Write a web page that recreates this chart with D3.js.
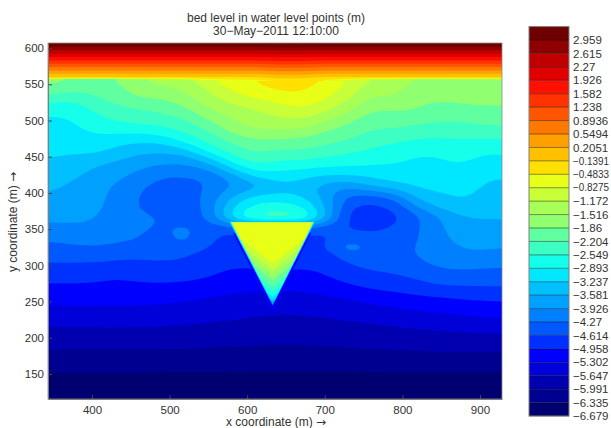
<!DOCTYPE html>
<html><head><meta charset="utf-8">
<script src="https://cdn.jsdelivr.net/npm/d3@7/dist/d3.min.js"></script>
<style>html,body{margin:0;padding:0;background:#fff;overflow:hidden}svg{display:block}</style>
</head><body>
<script>
const levels=[-6.679,-6.335,-5.991,-5.647,-5.302,-4.958,-4.614,-4.27,-3.926,-3.581,-3.237,-2.893,-2.549,-2.204,-1.86,-1.516,-1.172,-0.8275,-0.4833,-0.1391,0.2051,0.5494,0.8936,1.238,1.582,1.926,2.27,2.615,2.959];
const levelLabels=["−6.679","−6.335","−5.991","−5.647","−5.302","−4.958","−4.614","−4.27","−3.926","−3.581","−3.237","−2.893","−2.549","−2.204","−1.86","−1.516","−1.172","−0.8275","−0.4833","−0.1391","0.2051","0.5494","0.8936","1.238","1.582","1.926","2.27","2.615","2.959"];
const bandColors=["#000070","#000090","#0000b0","#0000d8","#0000ff","#0030ff","#0058ff","#0080ff","#00a0ff","#00c0ff","#00e8ff","#14ffeb","#3cffc3","#60ffa0","#90ff70","#a8ff57","#c8ff37","#e8ff17","#ffe000","#ffc000","#ffa000","#ff7800","#ff5500","#ff3300","#ff1000","#e00000","#c00000","#900000","#6f0000"];
const xTicks=[400,500,600,700,800,900];
const yTicks=[150,200,250,300,350,400,450,500,550,600];
const xGrid=[340,370,400,430,460,490,520,550,580,610,640,670,700,730,760,790,820,850,880,910,940];
const yGrid=[115,135,155,175,195,215,235,255,270,285,300,315,325,335,350,362,370,380,395,410,425,440,455,470,485,500,515,530,545,556];
const yStrip=[556,559,607];
// bed level per grid row (bottom to top), read as position on the contour-class scale
const bedClass=[
[-.1,-.1,-.1,-.1,-.1,-.1,-.1,-.1,-.1,-.1,-.1,-.1,-.1,-.1,-.1,-.1,-.1,-.1,-.1,-.1,-.1],
[.45,.45,.45,.45,.45,.45,.46,.47,.48,.5,.5,.5,.48,.47,.46,.45,.45,.45,.45,.45,.45],
[1.12,1.12,1.12,1.12,1.12,1.08,1.08,1.08,1.08,1.03,1.03,1.03,1.03,1.03,1.08,1.08,1.08,1.08,1.08,1.08,1.08],
[1.72,1.72,1.72,1.72,1.72,1.72,1.72,1.68,1.65,1.61,1.61,1.61,1.65,1.72,1.76,1.77,1.77,1.81,1.81,1.81,1.81],
[2.35,2.35,2.35,2.35,2.35,2.33,2.32,2.26,2.21,2.16,2.15,2.15,2.18,2.26,2.31,2.39,2.42,2.49,2.51,2.53,2.53],
[3.01,3.01,3.01,3.01,3.01,2.96,2.93,2.82,2.75,2.64,2.6,2.6,2.65,2.74,2.83,2.97,3.06,3.19,3.26,3.37,3.37],
[3.67,3.7,3.7,3.74,3.7,3.62,3.55,3.4,3.3,3.14,3.07,3.07,3.18,3.33,3.51,3.68,3.83,4.04,4.17,4.4,4.4],
[4.33,4.36,4.36,4.31,4.34,4.3,4.21,4.01,3.85,3.7,3.65,3.7,3.87,4.08,4.4,4.63,4.86,5,5.15,5.17,5.17],
[4.82,4.82,4.82,4.67,4.79,4.81,4.75,4.58,4.27,4.17,4.15,4.19,4.4,4.8,5.17,5.3,5.56,5.85,5.93,6,6],
[5.35,5.33,5.33,5.05,5.25,5.33,5.25,5.09,4.69,4.77,5,4.71,4.94,5.46,5.77,5.85,6.18,6.74,6.62,6.57,6.55],
[5.9,5.84,5.84,5.69,5.7,5.84,5.7,5.4,5.06,5.15,5.1,5.1,5.2,5.9,6.3,6.35,6.82,7.16,7.26,7.15,7.09],
[6.37,6.42,6.5,6.37,6.2,6.33,6.2,5.65,5.3,5.4,5.5,5.6,5.43,6.7,6.45,6.5,7.16,7.37,7.87,7.76,7.68],
[6.69,6.83,6.99,6.85,6.6,6.55,6.6,5.95,5.5,5.6,5.7,5.8,5.5,8.3,6.5,6.6,7.05,7.5,8.17,8.1,8.03],
[7,7.2,7.32,7.1,7,6.45,7.6,6,5.7,5.8,5.9,5.9,5.7,6.9,6.2,6.6,6.95,7.7,8.4,8.35,8.3],
[7.7,7.79,7.82,7.3,7.3,6.6,7.6,6.2,6,6,6,6,6,5.9,5.8,6.05,6.9,7.85,8.8,8.7,8.7],
[8.1,8.1,8.1,7.42,7.4,6.9,6.55,6.6,9.6,11.5,11.5,11.5,8.8,5.5,5.55,5.7,6.9,8.05,8.95,8.95,9.05],
[8.3,8.3,8.2,7.47,7.25,6.7,6.45,6.85,10.3,12.3,12.5,12.3,9.2,5.4,5.5,5.75,7.05,8.4,9.2,9.1,9.15],
[8.55,8.55,8.35,7.6,6.95,6.55,6.45,7.05,10.2,11.5,11.9,11.4,9.3,5.8,5.6,6,7.95,9.2,9.85,9.35,9.3],
[8.92,8.68,8.5,7.7,6.95,6.4,6.35,7.3,8.9,10.5,10.1,10.05,8.6,6.6,6.5,6.9,9.8,9.85,10.2,9.5,9.7],
[9.25,8.94,8.4,7.95,7.13,6.65,6.65,6.9,7.85,8.05,9.7,9.5,8.5,8.1,9.4,9.95,10.2,10.2,10.5,9.8,9.8],
[9.57,9.29,8.8,8.33,7.75,7,7,7.2,8.4,10.8,10.65,10.45,10.05,10.15,10.2,10.5,10.47,10.5,10.75,10,10.2],
[9.9,9.68,9.07,8.76,8.36,8,7.95,8.5,11.1,12.2,11.6,11.55,11.37,11.25,11.15,11,10.75,10.8,11.1,10.3,10.7],
[10.15,10.05,10.25,9.68,9,8.95,9,11.2,12.15,13.15,12.7,12.83,12.4,12,11.75,11.5,11,11.1,11.5,10.95,11.1],
[10.38,10.3,10.6,10.27,9.97,10,11.3,12.1,13.15,13.75,13.6,13.55,13.2,12.9,12.3,12,11.75,11.75,11.85,11.7,11.8],
[10.6,10.55,11.2,11.2,11.3,11.45,12.2,12.9,14.3,14.9,14.85,14.8,13.9,13.5,12.85,12.9,12.5,12.35,12.45,12.65,12.6],
[10.84,10.82,11.6,12.1,12.35,12.55,12.8,14,15,15.6,15.75,16,15.15,14.15,13.37,13.45,13.35,13,13.1,13.35,13.3],
[11.3,11.2,12,12.75,12.85,13.25,13.7,14.95,15.55,15.85,16.5,17,16.25,15.3,13.9,14.1,14,13.65,13.75,13.85,13.8],
[12.7,11.95,12.85,13.27,14.05,13.9,14.6,15.65,16.4,17.1,17.3,17.85,17.15,16.1,14.6,15.1,14.2,14.05,14.3,14.25,14.4],
[13.93,13.6,13.3,13.7,14.6,15,15.1,16.2,17.3,17.8,18.3,18.3,17.5,16.95,15.35,15.5,14.3,14.4,14.5,14.5,14.5],
[14.4,14,13.6,13.9,14.95,15.3,15.6,16.95,17.8,17.9,18.7,18.6,18,16.95,15.9,15.8,14.85,14.7,15.1,14.9,15.2]
];
// steep strip along the top of the plot: rows at yStrip[1], yStrip[2]
const stripClass=[
[18.8,18.8,18.8,18.8,18.8,18.8,18.8,18.8,18.8,18.8,19.1,19.1,18.8,18.8,18.8,18.8,18.8,18.8,18.8,18.8,18.8],
[29.2,29.2,29.2,29.2,29.2,29.2,29.2,29.2,29.2,29.2,29.2,29.2,29.2,29.2,29.2,29.2,29.2,29.2,29.2,29.2,29.2]
];
// pit: nested outlines, outer to inner
const pitClass=[4,8,9,10,11,12,13,14,15,16,17];
const pitInset=[-2.5,0,.4,.9,1.3,1.7,2,2.4,2.7,3,3.6];
const pitTop=[345,360.5,360.3,360.1,360,359.8,359.6,359.4,359.2,359,358.8];
const pitApex=[238,245,249.7,252,256.6,263.5,270.4,279.6,286.6,293.5,302.8];
const pitCorners={left:577,right:687.4,top:360,apex:632.9,apexY:245};

const W=611,H=428;
const x=d3.scaleLinear().domain([343.3,928.4]).range([48,502]);
const y=d3.scaleLinear().domain([115.5,607]).range([399,43]);
const classToLevel=d3.scaleLinear().domain([0,28]).range([-6.679,2.959]);
const svg=d3.select("body").append("svg").attr("width",W).attr("height",H)
  .style("font-family","'Liberation Sans',Arial,sans-serif");
const defs=svg.append("defs");
defs.append("clipPath").attr("id","plotClip").append("rect")
  .attr("x",48).attr("y",43).attr("width",454).attr("height",356);
defs.append("filter").attr("id","soft").attr("x","-5%").attr("y","-5%").attr("width","110%").attr("height","110%")
  .append("feGaussianBlur").attr("stdDeviation",0.6);

const clip=svg.append("g").attr("clip-path","url(#plotClip)");
const field=clip.append("g").attr("filter","url(#soft)");
field.append("rect").attr("width",W).attr("height",H).attr("fill",bandColors[0]);

// refine the read grid so the contour classes follow smooth curves
const nx=xGrid.length, ny=yGrid.length+1, K=3;
const extended=[...bedClass,bedClass[bedClass.length-1]];
const yAll=[...yGrid,607];
const fw=(nx-1)*K+1, fh=(ny-1)*K+1;
const fine=new Float64Array(fw*fh);
for(let j=0;j<fh;j++){const r=j/K,r0=Math.min(Math.floor(r),ny-2),tr=r-r0;
  for(let i=0;i<fw;i++){const c=i/K,c0=Math.min(Math.floor(c),nx-2),tc=c-c0;
    fine[j*fw+i]=d3.interpolateNumber(
      d3.interpolateNumber(extended[r0][c0],extended[r0][c0+1])(tc),
      d3.interpolateNumber(extended[r0+1][c0],extended[r0+1][c0+1])(tc))(tr);}}
if(d3.blur2) d3.blur2({data:fine,width:fw,height:fh},1);
const xAt=d3.scaleLinear().domain(d3.range(nx)).range(xGrid);
const yAt=d3.scaleLinear().domain(d3.range(ny)).range(yAll);
const fineLevels=Array.from(fine,classToLevel);
const contours=d3.contours().size([fw,fh]).thresholds(levels)(fineLevels);
const path=d3.geoPath(d3.geoTransform({point(px,py){this.stream.point(x(xAt((px-.5)/K)),y(yAt((py-.5)/K)));}}));
field.selectAll("path.band").data(contours).join("path").attr("class","band")
  .attr("d",path).attr("fill",(d,i)=>bandColors[i]);

// steep strip
const stripRows=[bedClass[bedClass.length-1],...stripClass];
const stripY=d3.scaleLinear().domain([0,1,2]).range(yStrip);
const stripContours=d3.contours().size([nx,3]).thresholds(levels)(stripRows.flat().map(classToLevel));
const stripPath=d3.geoPath(d3.geoTransform({point(px,py){this.stream.point(x(xAt(px-.5)),y(stripY(py-.5)));}}));
field.selectAll("path.strip").data(stripContours.slice(16)).join("path").attr("class","strip")
  .attr("d",stripPath).attr("fill",(d,i)=>bandColors[i+16]);

// pit outlines
const pc=pitCorners;
const slope=(pc.apex-pc.left)/(pc.top-pc.apexY);
const chevron=1.2;
function pitOutline(i){
  const ins=pitInset[i],top=pitTop[i],ay=pitApex[i];
  const lx=v=>pc.left+ins+(pc.top-v)*slope, rx=v=>pc.right-ins-(pc.top-v)*slope;
  const natural=pc.apexY+ins/slope;
  if(ay<=natural+.01||i<2){
    return [[lx(top),top],[rx(top),top],[pc.apex,Math.min(natural,ay)]];
  }
  const sy=(pc.apex+ay*chevron-(pc.left+ins)-pc.top*slope)/(chevron-slope);
  const dx=(sy-ay)*chevron;
  return [[lx(top),top],[rx(top),top],[pc.apex+dx,sy],[pc.apex,ay],[pc.apex-dx,sy]];
}
const pitLine=d3.line().x(d=>x(d[0])).y(d=>y(d[1]));
field.selectAll("path.pit").data(pitClass).join("path").attr("class","pit")
  .attr("d",(d,i)=>pitLine(pitOutline(i))+"Z").attr("fill",d=>bandColors[d]);

// axes
const axisColor="#444";
const gx=svg.append("g").attr("transform","translate(0,399)")
  .call(d3.axisBottom(x).tickValues(xTicks).tickSizeInner(-4).tickSizeOuter(0).tickPadding(6.5));
const gy=svg.append("g").attr("transform","translate(48,0)")
  .call(d3.axisLeft(y).tickValues(yTicks).tickSizeInner(-4).tickSizeOuter(0).tickPadding(4));
svg.append("rect").attr("x",48).attr("y",43).attr("width",454).attr("height",356).attr("fill","none").attr("stroke","#8a8a8a").attr("stroke-width",.8);
[gx,gy].forEach(g=>{g.selectAll("path").attr("stroke","#777");g.selectAll("line").attr("stroke",axisColor);
  g.selectAll("text").attr("fill","#333").attr("font-size",11.5).attr("font-family","'Liberation Sans',Arial,sans-serif");});

// titles
const txt=(t,a,b)=>svg.append("text").text(t).attr("x",a).attr("y",b).attr("text-anchor","middle").attr("font-size",12).attr("fill","#333");
txt("bed level in water level points (m)",276,22);
txt("30−May−2011 12:10:00",276,35);
const labelWithArrow=(sel,t)=>{sel.append("tspan").text(t+" ");sel.append("tspan").text("→").attr("font-family","'DejaVu Sans',sans-serif");};
labelWithArrow(svg.append("text").attr("x",276).attr("y",426).attr("text-anchor","middle").attr("font-size",12).attr("fill","#333"),"x coordinate (m)");
labelWithArrow(svg.append("text").attr("transform","translate(17,222) rotate(-90)").attr("text-anchor","middle").attr("font-size",12).attr("fill","#333"),"y coordinate (m)");

// colour bar
const yBar=d3.scaleLinear().domain([levels[0],levels[28]]).range([416,40]);
const barEdges=[...levels,2*levels[28]-levels[27]];
const bar=svg.append("g");
bar.selectAll("rect").data(bandColors).join("rect")
  .attr("x",529).attr("width",40)
  .attr("y",(d,i)=>yBar(barEdges[i+1])).attr("height",(d,i)=>yBar(barEdges[i])-yBar(barEdges[i+1]))
  .attr("fill",d=>d);
bar.selectAll("line").data(levels).join("line").attr("x1",529).attr("x2",569)
  .attr("y1",d=>yBar(d)).attr("y2",d=>yBar(d)).attr("stroke","#000").attr("stroke-opacity",.55).attr("stroke-width",.8);
bar.append("rect").attr("x",529).attr("y",yBar(barEdges[29])).attr("width",40).attr("height",yBar(levels[0])-yBar(barEdges[29]))
  .attr("fill","none").attr("stroke","#808080").attr("stroke-width",1);
const gb=svg.append("g").attr("transform","translate(569,0)")
  .call(d3.axisRight(yBar).tickValues(levels).tickFormat((d,i)=>levelLabels[i]).tickSize(0).tickPadding(4));
gb.select("path").remove();
gb.selectAll("text").attr("fill","#333").attr("font-size",11.5).attr("font-family","'Liberation Sans',Arial,sans-serif")
  .each(function(d,i){ if(levelLabels[i].length>=7) d3.select(this).attr("font-size",10).attr("textLength",36).attr("lengthAdjust","spacingAndGlyphs"); });
</script>
</body></html>
